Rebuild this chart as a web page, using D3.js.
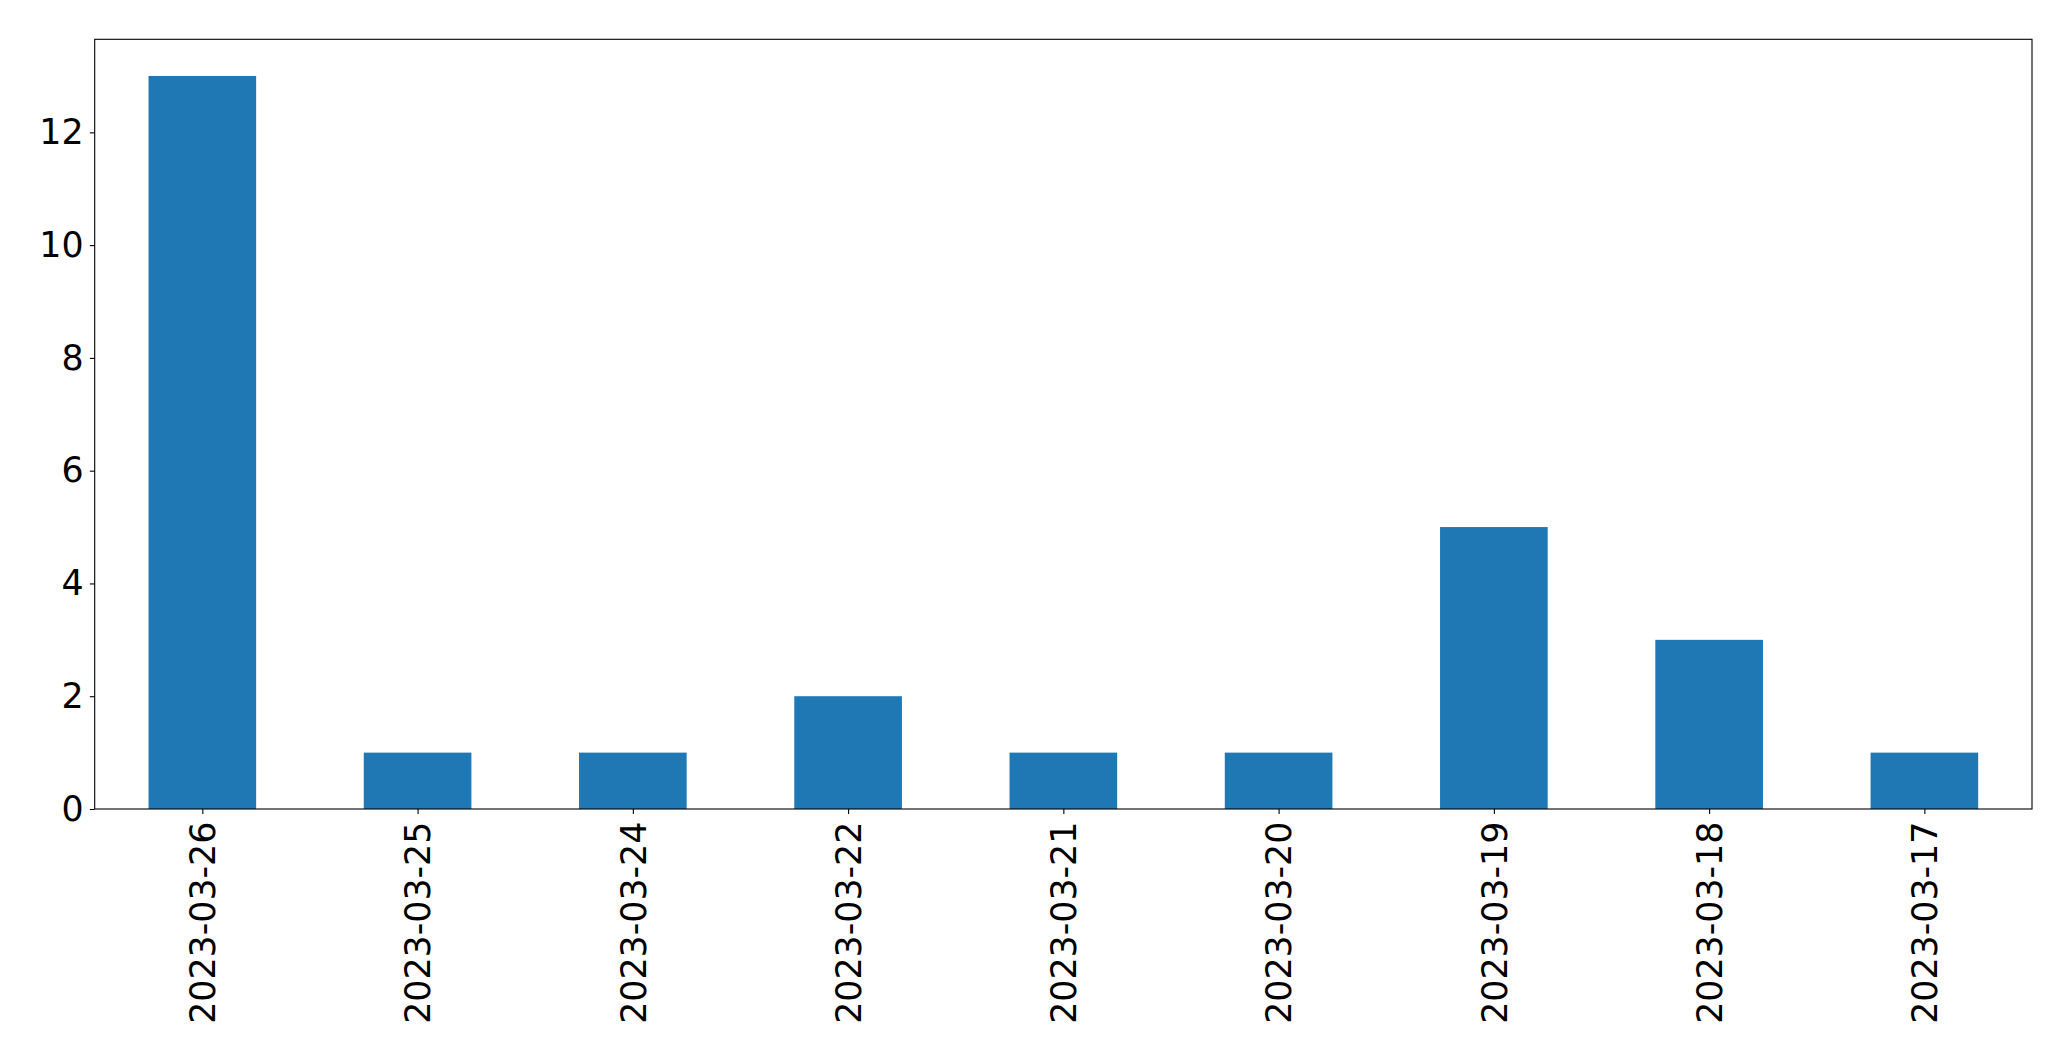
<!DOCTYPE html>
<html>
<head>
<meta charset="utf-8">
<script src="https://cdn.jsdelivr.net/npm/d3@7"></script>
<style>
  html, body { margin: 0; padding: 0; background: #fff; }
  svg { display: block; }
</style>
</head>
<body>
<svg id="chart" width="2071" height="1061"></svg>
<script>
const categories = ["2023-03-26","2023-03-25","2023-03-24","2023-03-22","2023-03-21","2023-03-20","2023-03-19","2023-03-18","2023-03-17"];
const counts = [13, 1, 1, 2, 1, 1, 5, 3, 1];
const yTicks = [0, 2, 4, 6, 8, 10, 12];

const W = 2071, H = 1061;
const margin = { left: 94.7, right: W - 2032, top: 39.3, bottom: H - 809 };
const fontSize = 34.8;
const font = "'DejaVu Sans', sans-serif";

const svg = d3.select("#chart");
const xPos = d3.scaleLinear().domain([-0.5, categories.length - 0.5]).range([margin.left, W - margin.right]);
const y = d3.scaleLinear().domain([0, d3.max(counts) * 1.05]).range([H - margin.bottom, margin.top]);
const barW = 0.5;

// bars
svg.append("g").selectAll("rect").data(counts).join("rect")
  .attr("x", (d, i) => xPos(i - barW / 2))
  .attr("width", (d, i) => xPos(i + barW / 2) - xPos(i - barW / 2))
  .attr("y", d => y(d))
  .attr("height", d => y(0) - y(d))
  .attr("fill", "#1f77b4");

// y axis
const yAxis = d3.axisLeft(y).tickValues(yTicks).tickSize(4.9).tickPadding(6.2).tickFormat(d3.format("d"));
const gy = svg.append("g").attr("transform", `translate(${margin.left},0)`).call(yAxis);
gy.select(".domain").remove();
gy.selectAll(".tick line").attr("stroke", "#000").attr("stroke-width", 1.1);
gy.selectAll(".tick text").attr("font-family", font).attr("font-size", fontSize).attr("fill", "#000");

// x axis
const xAxis = d3.axisBottom(xPos).tickValues(d3.range(categories.length)).tickSize(4.9).tickFormat(i => categories[i]);
const gx = svg.append("g").attr("transform", `translate(0,${H - margin.bottom})`).call(xAxis);
gx.select(".domain").remove();
gx.selectAll(".tick line").attr("stroke", "#000").attr("stroke-width", 1.1);
gx.selectAll(".tick text")
  .attr("font-family", font).attr("font-size", fontSize).attr("fill", "#000")
  .attr("text-anchor", "end")
  .attr("transform", "translate(0,12.6) rotate(-90)")
  .attr("x", 0).attr("y", 0).attr("dy", "0.35em");

// frame
svg.append("rect")
  .attr("x", margin.left).attr("y", margin.top)
  .attr("width", W - margin.right - margin.left)
  .attr("height", H - margin.bottom - margin.top)
  .attr("fill", "none").attr("stroke", "#000").attr("stroke-width", 1.1);
</script>
</body>
</html>
